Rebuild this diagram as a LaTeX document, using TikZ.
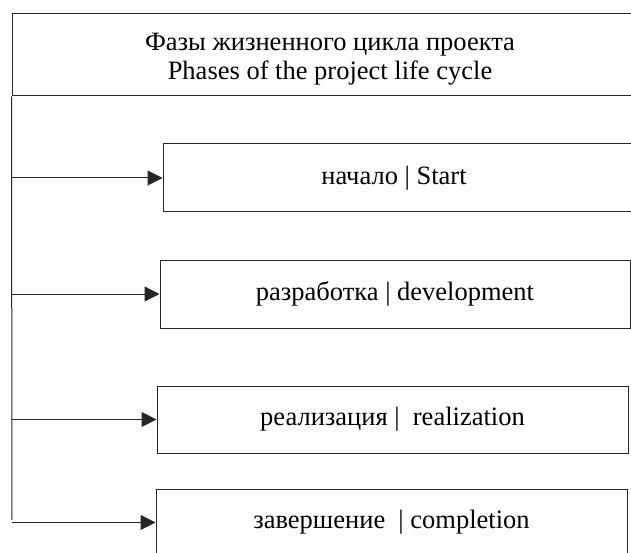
\documentclass[tikz,border=0pt]{standalone}
\usepackage{fontspec}
\setmainfont{Liberation Serif}
\usetikzlibrary{arrows.meta}
\begin{document}
\begin{tikzpicture}[x=1pt,y=-1pt,
  frame/.style={draw=black!85,line width=1pt,inner sep=0pt,anchor=center,font=\fontsize{26.5}{29}\selectfont},
  label/.style={inner sep=0pt,font=\fontsize{26.5}{29}\selectfont,align=center},
  arr/.style={draw=black!85,line width=1pt,-{Triangle[length=15pt,width=15pt]}},
  spine/.style={draw=black!85,line width=1pt}]
\useasboundingbox (0,0) rectangle (631,553);
\clip (0,0) rectangle (631,553);
\node[frame,minimum width=636pt,minimum height=82pt] (top) at (330,55) {};
\node[label] (title) at (330,59) {Фазы жизненного цикла проекта\\Phases of the project life cycle};
\node[frame,minimum width=473pt,minimum height=68pt] (b1) at (399.5,178) {};
\node[label] (t1) at (394,178) {начало | Start};
\node[frame,minimum width=470pt,minimum height=68pt] (b2) at (395,294) {разработка | development};
\node[frame,minimum width=471pt,minimum height=67pt] (b3) at (392.5,419.5) {реализация |\ \ realization};
\node[frame,minimum width=471pt,minimum height=67pt] (b4) at (391.5,522.5) {завершение \ | completion};
\coordinate (spineend) at (12,520);
\draw[spine] (top.south west) -- (spineend);
\draw[arr] (b1.west -| top.west) -- (b1.west);
\draw[arr] (b2.west -| top.west) -- (b2.west);
\draw[arr] (b3.west -| top.west) -- (b3.west);
\draw[arr] (b4.west -| top.west) -- (b4.west);
\end{tikzpicture}
\end{document}
